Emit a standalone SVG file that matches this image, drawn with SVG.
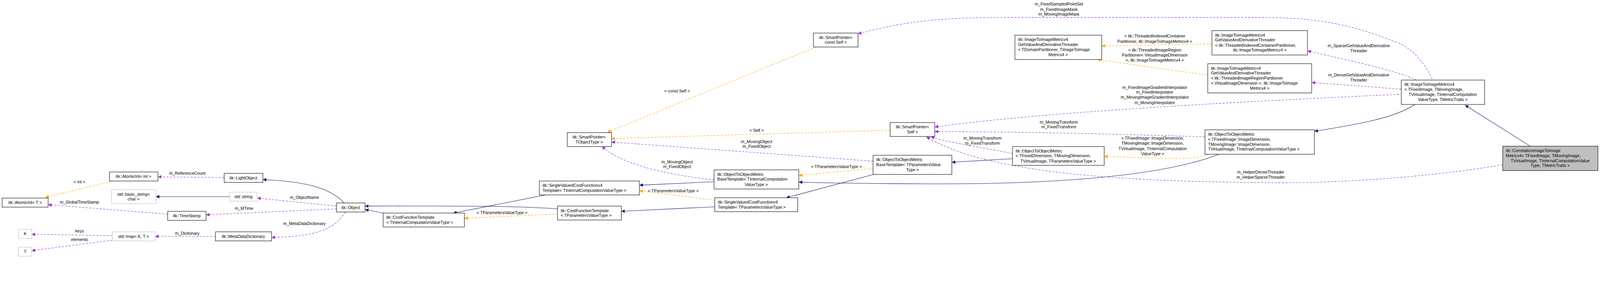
<svg xmlns="http://www.w3.org/2000/svg" width="4589" height="741" viewBox="0 0 4589 741" preserveAspectRatio="xMinYMin meet">
<style>
:root{width:100vw;height:100vh}
text{font-family:"Liberation Sans",Arial,sans-serif;font-size:12px;fill:#000}
.c{text-anchor:middle}
.b{fill:#fff;stroke:#000;stroke-width:1.2}
.g{fill:#fff;stroke:#bfbfbf;stroke-width:1.2}
.s{fill:#bfbfbf;stroke:#000;stroke-width:1.2}
.inh{fill:none;stroke:#191970;stroke-width:1.2;marker-end:url(#mn)}
.use{fill:none;stroke:#9a32cd;stroke-width:1.2;stroke-dasharray:6,4;marker-end:url(#mp)}
.tpl{fill:none;stroke:#ffa500;stroke-width:1.2;stroke-dasharray:6,4;marker-end:url(#mo)}
</style>
<defs>
<marker id="mn" viewBox="0 0 10 10" refX="10" refY="5" markerWidth="10" markerHeight="10" markerUnits="userSpaceOnUse" orient="auto"><path d="M0,0L10,5L0,10z" fill="#191970"/></marker>
<marker id="mp" viewBox="0 0 10 10" refX="10" refY="5" markerWidth="10" markerHeight="10" markerUnits="userSpaceOnUse" orient="auto"><path d="M0,0L10,5L0,10z" fill="#9a32cd"/></marker>
<marker id="mo" viewBox="0 0 10 10" refX="10" refY="5" markerWidth="10" markerHeight="10" markerUnits="userSpaceOnUse" orient="auto"><path d="M0,0L10,5L0,10z" fill="#ffa500"/></marker>
</defs>
<rect width="4589" height="741" fill="#fff"/>
<g id="edges">
<path class="tpl" d="M329,519 L130,567"/>
<path class="inh" d="M659,565 L447,565"/>
<path class="use" d="M481,615 L138,588"/>
<path class="use" d="M643,510 L453,508"/>
<path class="inh" d="M987,583 C940,530 840,520 754,516"/>
<path class="use" d="M965,592 L738,569"/>
<path class="use" d="M965,600 L591,617"/>
<path class="use" d="M990,609 C960,660 900,680 779,682"/>
<path class="use" d="M618,679 L445,679"/>
<path class="use" d="M322,677 L91,673"/>
<path class="use" d="M322,690 L91,720"/>
<path class="inh" d="M1099,612 L1047,602"/>
<path class="inh" d="M1599,600 C1450,590 1300,592 1047,592"/>
<path class="inh" d="M1565,560 L1300,612"/>
<path class="tpl" d="M1599,615 L1332,627"/>
<path class="inh" d="M2048,522 L1834,532"/>
<path class="tpl" d="M2050,575 L1834,548"/>
<path class="inh" d="M2050,594 L1782,607"/>
<path class="inh" d="M2510,500 L2255,568"/>
<path class="tpl" d="M2504,484 L2291,504"/>
<path class="inh" d="M3496,443 C3300,520 2900,530 2640,528 C2450,527 2350,526 2291,523"/>
<path class="inh" d="M2904,456 L2730,466"/>
<path class="tpl" d="M3466,443 C3430,460 3350,456 3167,449"/>
<path class="inh" d="M4058,300 C4000,340 3880,360 3770,377"/>
<path class="inh" d="M4389,420 L4202,302"/>
<path class="tpl" d="M3476,126 L3160,132"/>
<path class="tpl" d="M3464,216 L3148,171"/>
<path class="use" d="M4063,230 C4000,200 3850,170 3750,146"/>
<path class="use" d="M4019,256 L3762,237"/>
<path class="use" d="M4012,271 C3600,290 3000,320 2681,365"/>
<path class="use" d="M3456,393 C3200,385 2900,378 2681,378"/>
<path class="use" d="M2904,441 C2800,420 2720,410 2670,393"/>
<path class="use" d="M4310,473 C4100,510 3800,530 3600,524 C3100,520 2800,480 2657,393"/>
<path class="tpl" d="M2553,374 L1754,398"/>
<path class="tpl" d="M2340,135 L1742,380"/>
<path class="use" d="M2504,463 L1754,408"/>
<path class="use" d="M2048,517 C1900,500 1780,470 1727,421"/>
<path class="use" d="M4108,227 C4080,170 4040,130 3995,118 C3900,80 3800,50 3618,50 L2900,50 C2700,50 2600,60 2461,97"/>
</g>
<g id="labels">
<text class="c" x="228" y="527">&lt; int &gt;</text>
<text class="c" x="537" y="502">m_ReferenceCount</text>
<text class="c" x="228" y="585">m_GlobalTimeStamp</text>
<text class="c" x="700" y="603">m_MTime</text>
<text class="c" x="228" y="668">keys</text>
<text class="c" x="228" y="692">elements</text>
<text class="c" x="537" y="675">m_Dictionary</text>
<text class="c" x="873" y="571">m_ObjectName</text>
<text class="c" x="873" y="646">m_MetaDataDictionary</text>
<text class="c" x="1440" y="615">&lt; TParametersValueType &gt;</text>
<text class="c" x="1942" y="469">m_MovingObject</text>
<text class="c" x="1942" y="483">m_FixedObject</text>
<text class="c" x="1931" y="552">&lt; TParametersValueType &gt;</text>
<text class="c" x="1942" y="265">&lt; const Self &gt;</text>
<text class="c" x="2170" y="379">&lt; Self &gt;</text>
<text class="c" x="2170" y="411">m_MovingObject</text>
<text class="c" x="2170" y="425">m_FixedObject</text>
<text class="c" x="2399" y="483">&lt; TParametersValueType &gt;</text>
<text class="c" x="2818" y="401">m_MovingTransform</text>
<text class="c" x="2818" y="416">m_FixedTransform</text>
<text class="c" x="3037" y="355">m_MovingTransform</text>
<text class="c" x="3037" y="369">m_FixedTransform</text>
<text class="c" x="3037" y="16">m_FixedSampledPointSet</text>
<text class="c" x="3037" y="31">m_FixedImageMask</text>
<text class="c" x="3037" y="45">m_MovingImageMask</text>
<text class="c" x="3312" y="108">&lt; itk::ThreadedIndexedContainer</text>
<text class="c" x="3312" y="123">Partitioner, itk::ImageToImageMetricv4 &gt;</text>
<text class="c" x="3312" y="148">&lt; itk::ThreadedImageRegion</text>
<text class="c" x="3312" y="163">Partitioner&lt; VirtualImageDimension</text>
<text class="c" x="3312" y="177">&gt;, itk::ImageToImageMetricv4 &gt;</text>
<text class="c" x="3312" y="255">m_FixedImageGradientInterpolator</text>
<text class="c" x="3312" y="269">m_FixedInterpolator</text>
<text class="c" x="3312" y="284">m_MovingImageGradientInterpolator</text>
<text class="c" x="3312" y="299">m_MovingInterpolator</text>
<text class="c" x="3306" y="401">&lt; TFixedImage::ImageDimension,</text>
<text class="c" x="3306" y="416">TMovingImage::ImageDimension,</text>
<text class="c" x="3306" y="431">TVirtualImage, TInternalComputation</text>
<text class="c" x="3306" y="446">ValueType &gt;</text>
<text class="c" x="3897" y="136">m_SparseGetValueAndDerivative</text>
<text class="c" x="3897" y="150">Threader</text>
<text class="c" x="3897" y="220">m_DenseGetValueAndDerivative</text>
<text class="c" x="3897" y="234">Threader</text>
<text class="c" x="3616" y="499">m_HelperDenseThreader</text>
<text class="c" x="3616" y="513">m_HelperSparseThreader</text>
</g>
<g id="n1"><rect class="b" x="6" y="569" width="132" height="26"/><text class="c" x="72" y="586">itk::AtomicInt&lt; T &gt;</text></g>
<g id="n2"><rect class="b" x="314" y="494" width="139" height="26"/><text class="c" x="383" y="511">itk::AtomicInt&lt; int &gt;</text></g>
<g id="n3"><rect class="b" x="643" y="498" width="111" height="26"/><text class="c" x="698" y="515">itk::LightObject</text></g>
<g id="n4"><rect class="g" x="320" y="545" width="127" height="40"/><text class="c" x="383" y="562">std::basic_string&lt;</text><text class="c" x="383" y="576">char &gt;</text></g>
<g id="n5"><rect class="g" x="659" y="552" width="79" height="26"/><text class="c" x="698" y="569">std::string</text></g>
<g id="n6"><rect class="b" x="481" y="607" width="110" height="26"/><text class="c" x="536" y="624">itk::TimeStamp</text></g>
<g id="n7"><rect class="g" x="53" y="659" width="38" height="26"/><text class="c" x="72" y="676">K</text></g>
<g id="n8"><rect class="g" x="53" y="710" width="38" height="26"/><text class="c" x="72" y="727">T</text></g>
<g id="n9"><rect class="g" x="322" y="666" width="123" height="26"/><text class="c" x="383" y="683">std::map&lt; K, T &gt;</text></g>
<g id="n10"><rect class="b" x="618" y="666" width="161" height="26"/><text class="c" x="698" y="683">itk::MetaDataDictionary</text></g>
<g id="n11"><rect class="b" x="965" y="583" width="82" height="26"/><text class="c" x="1006" y="600">itk::Object</text></g>
<g id="n12"><rect class="b" x="1099" y="612" width="233" height="40"/><text x="1108" y="629">itk::CostFunctionTemplate</text><text x="1108" y="643">&lt; TInternalComputationValueType &gt;</text></g>
<g id="n13"><rect class="b" x="1627" y="381" width="127" height="40"/><text class="c" x="1690" y="398">itk::SmartPointer&lt;</text><text class="c" x="1690" y="412">TObjectType &gt;</text></g>
<g id="n14"><rect class="b" x="1547" y="520" width="287" height="40"/><text x="1556" y="537">itk::SingleValuedCostFunctionv4</text><text x="1556" y="551">Template&lt; TInternalComputationValueType &gt;</text></g>
<g id="n15"><rect class="b" x="1599" y="592" width="183" height="40"/><text x="1608" y="609">itk::CostFunctionTemplate</text><text x="1608" y="623">&lt; TParametersValueType &gt;</text></g>
<g id="n16"><rect class="b" x="2333" y="95" width="128" height="40"/><text class="c" x="2397" y="112">itk::SmartPointer&lt;</text><text class="c" x="2397" y="126">const Self &gt;</text></g>
<g id="n17"><rect class="b" x="2553" y="352" width="128" height="40"/><text class="c" x="2617" y="369">itk::SmartPointer&lt;</text><text class="c" x="2617" y="383">Self &gt;</text></g>
<g id="n18"><rect class="b" x="2048" y="488" width="243" height="55"/><text x="2057" y="505">itk::ObjectToObjectMetric</text><text x="2057" y="519">BaseTemplate&lt; TInternalComputation</text><text class="c" x="2169" y="534">ValueType &gt;</text></g>
<g id="n19"><rect class="b" x="2050" y="568" width="238" height="40"/><text x="2059" y="585">itk::SingleValuedCostFunctionv4</text><text x="2059" y="599">Template&lt; TParametersValueType &gt;</text></g>
<g id="n20"><rect class="b" x="2504" y="446" width="226" height="55"/><text x="2513" y="463">itk::ObjectToObjectMetric</text><text x="2513" y="477">BaseTemplate&lt; TParametersValue</text><text class="c" x="2617" y="492">Type &gt;</text></g>
<g id="n21"><rect class="b" x="2904" y="421" width="263" height="54"/><text x="2913" y="438">itk::ObjectToObjectMetric</text><text x="2913" y="452">&lt; TFixedDimension, TMovingDimension,</text><text class="c" x="3035" y="467">TVirtualImage, TParametersValueType &gt;</text></g>
<g id="n22"><rect class="b" x="2911" y="101" width="249" height="70"/><text x="2920" y="118">itk::ImageToImageMetricv4</text><text x="2920" y="132">GetValueAndDerivativeThreader</text><text x="2920" y="147">&lt; TDomainPartitioner, TImageToImage</text><text class="c" x="3035" y="161">Metricv4 &gt;</text></g>
<g id="n23"><rect class="b" x="3476" y="88" width="274" height="70"/><text x="3485" y="105">itk::ImageToImageMetricv4</text><text x="3485" y="119">GetValueAndDerivativeThreader</text><text x="3485" y="134">&lt; itk::ThreadedIndexedContainerPartitioner,</text><text class="c" x="3613" y="148">itk::ImageToImageMetricv4 &gt;</text></g>
<g id="n24"><rect class="b" x="3464" y="183" width="298" height="84"/><text x="3473" y="200">itk::ImageToImageMetricv4</text><text x="3473" y="214">GetValueAndDerivativeThreader</text><text x="3473" y="229">&lt; itk::ThreadedImageRegionPartitioner</text><text x="3473" y="243">&lt; VirtualImageDimension &gt;, itk::ImageToImage</text><text class="c" x="3613" y="258">Metricv4 &gt;</text></g>
<g id="n25"><rect class="b" x="3456" y="373" width="314" height="70"/><text x="3465" y="390">itk::ObjectToObjectMetric</text><text x="3465" y="404">&lt; TFixedImage::ImageDimension,</text><text x="3465" y="419">TMovingImage::ImageDimension,</text><text x="3465" y="433">TVirtualImage, TInternalComputationValueType &gt;</text></g>
<g id="n26"><rect class="b" x="4019" y="230" width="239" height="70"/><text x="4028" y="247">itk::ImageToImageMetricv4</text><text x="4028" y="261">&lt; TFixedImage, TMovingImage,</text><text class="c" x="4138" y="276">TVirtualImage, TInternalComputation</text><text class="c" x="4138" y="290">ValueType, TMetricTraits &gt;</text></g>
<g id="n27"><rect class="s" x="4310" y="420" width="273" height="70"/><text x="4319" y="437">itk::CorrelationImageToImage</text><text x="4319" y="451">Metricv4&lt; TFixedImage, TMovingImage,</text><text class="c" x="4446" y="466">TVirtualImage, TInternalComputationValue</text><text class="c" x="4446" y="480">Type, TMetricTraits &gt;</text></g>
</svg>
